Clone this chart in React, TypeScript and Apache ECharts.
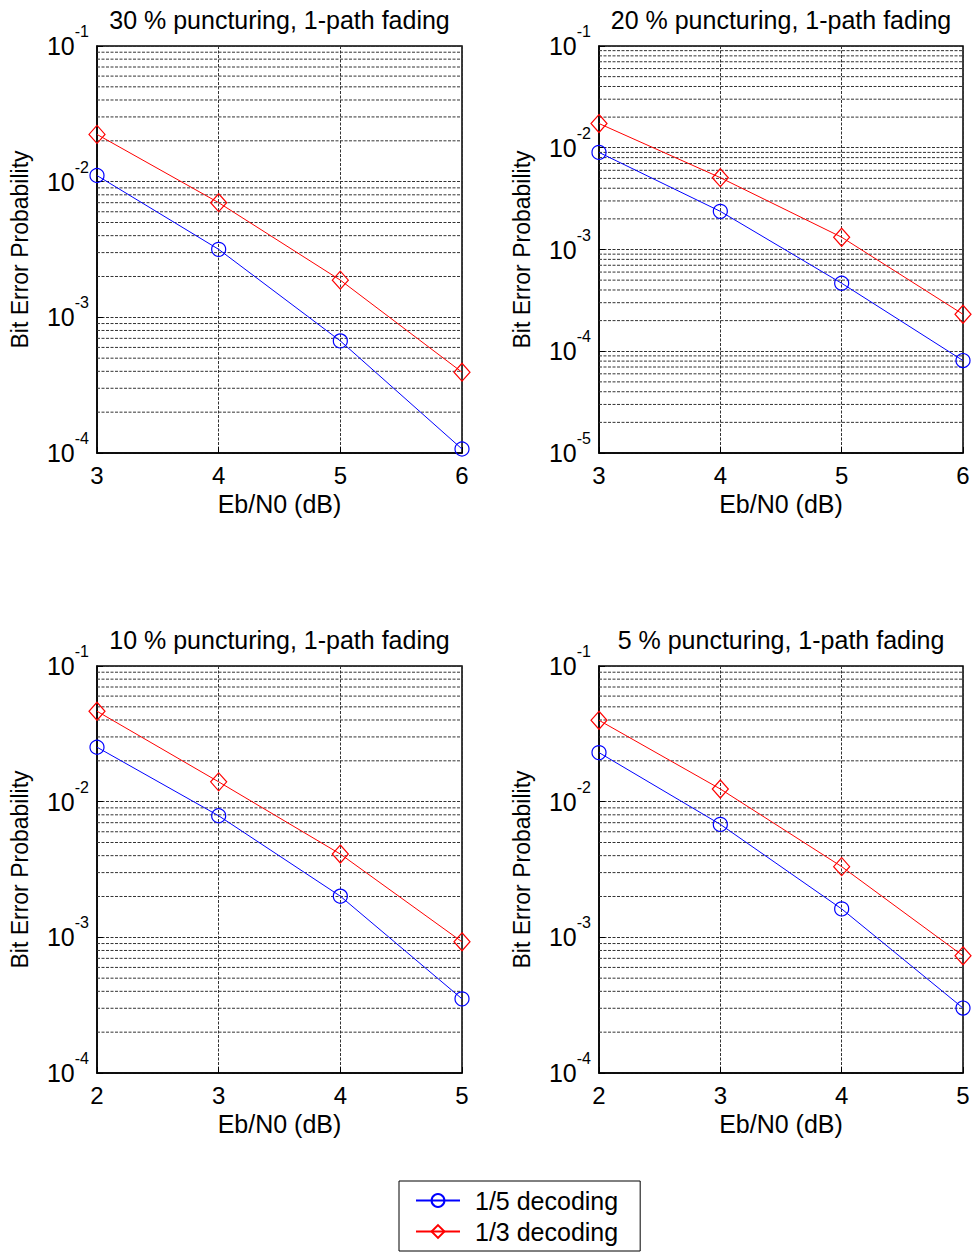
import React, { useEffect, useRef } from "react";
import * as echarts from "echarts";

const X_TOP = [3, 4, 5, 6];
const X_BOTTOM = [2, 3, 4, 5];

const P30_R15 = [0.0111, 0.00317, 0.00067, 0.000107];
const P30_R13 = [0.0223, 0.007, 0.00188, 0.000394];
const P20_R15 = [0.009, 0.00237, 0.000466, 0.000081];
const P20_R13 = [0.0173, 0.00508, 0.00132, 0.000231];
const P10_R15 = [0.0252, 0.00787, 0.00201, 0.000352];
const P10_R13 = [0.0464, 0.014, 0.00411, 0.000927];
const P5_R15 = [0.023, 0.0068, 0.00162, 0.000301];
const P5_R13 = [0.0398, 0.0124, 0.00332, 0.000731];

const TITLES = [
  "30 % puncturing, 1-path fading",
  "20 % puncturing, 1-path fading",
  "10 % puncturing, 1-path fading",
  "5 % puncturing, 1-path fading",
];
const SERIES_NAMES = ["1/5 decoding", "1/3 decoding"];
const X_NAME = "Eb/N0 (dB)";
const Y_NAME = "Bit Error Probability";

const FONT = "'Liberation Sans', Arial, Helvetica, sans-serif";

const PANELS = [
  { title: TITLES[0], x: X_TOP, a: P30_R15, b: P30_R13, yMin: 1e-4, yMax: 1e-1, left: 97, top: 46, width: 365 },
  { title: TITLES[1], x: X_TOP, a: P20_R15, b: P20_R13, yMin: 1e-5, yMax: 1e-1, left: 599, top: 46, width: 364 },
  { title: TITLES[2], x: X_BOTTOM, a: P10_R15, b: P10_R13, yMin: 1e-4, yMax: 1e-1, left: 97, top: 666, width: 365 },
  { title: TITLES[3], x: X_BOTTOM, a: P5_R15, b: P5_R13, yMin: 1e-4, yMax: 1e-1, left: 599, top: 666, width: 364 },
];
const PLOT_H = 407;

// minor log grid positions (2..9 x 10^e) — axis structure, not data
function minorValues(min: number, max: number) {
  const out: number[] = [];
  const e0 = Math.round(Math.log10(min));
  const e1 = Math.round(Math.log10(max));
  for (let e = e0; e < e1; e++) {
    for (let k = 2; k <= 9; k++) out.push(k * Math.pow(10, e));
  }
  return out;
}

const GRID_STYLE = { color: "#333", type: [3, 1.5] as any, width: 1 };

export default function App() {
  const ref = useRef<HTMLDivElement>(null);
  useEffect(() => {
    if (!ref.current) return;
    const chart = echarts.init(ref.current, null, { renderer: "svg" });
    const grid: any[] = [];
    const xAxis: any[] = [];
    const yAxis: any[] = [];
    const series: any[] = [];
    const graphic: any[] = [];
    PANELS.forEach((p, i) => {
      const x0 = p.x[0];
      const x1 = p.x[p.x.length - 1];
      grid.push({
        left: p.left,
        top: p.top,
        width: p.width,
        height: PLOT_H,
        show: true,
        borderColor: "#000",
        borderWidth: 1.5,
        backgroundColor: "#fff",
      });
      xAxis.push({
        type: "value",
        gridIndex: i,
        min: x0,
        max: x1,
        interval: 1,
        name: X_NAME,
        nameLocation: "middle",
        nameGap: 38,
        nameTextStyle: { fontSize: 25, fontFamily: FONT, color: "#000" },
        axisLine: { show: true, lineStyle: { color: "#000", width: 1.5 } },
        axisTick: { show: true, inside: true, length: 6, lineStyle: { color: "#000" } },
        axisLabel: { fontSize: 24, fontFamily: FONT, color: "#000", margin: 10 },
        splitLine: { show: true, lineStyle: GRID_STYLE },
      });
      yAxis.push({
        type: "log",
        logBase: 10,
        gridIndex: i,
        min: p.yMin,
        max: p.yMax,
        name: Y_NAME,
        nameLocation: "middle",
        nameRotate: 90,
        nameGap: 66,
        nameTextStyle: { fontSize: 23, fontFamily: FONT, color: "#000" },
        axisLine: { show: true, lineStyle: { color: "#000", width: 1.5 } },
        axisTick: { show: true, inside: true, length: 6, lineStyle: { color: "#000" } },
        axisLabel: {
          margin: 8,
          formatter: (v: number) => `{b|10}{s|${Math.round(Math.log10(v))}}`,
          rich: {
            b: { fontSize: 25, fontFamily: FONT, color: "#000" },
            s: { fontSize: 16, fontFamily: FONT, color: "#000", padding: [0, 0, 29, 0] },
          },
        },
        splitLine: { show: true, lineStyle: GRID_STYLE },
      });
      minorValues(p.yMin, p.yMax).forEach((v, k) => {
        series.push({
          type: "line",
          name: "minor-" + i + "-" + k,
          xAxisIndex: i,
          yAxisIndex: i,
          data: [
            [x0, v],
            [x1, v],
          ],
          symbol: "none",
          silent: true,
          z: 1,
          lineStyle: GRID_STYLE,
          emphasis: { disabled: true },
        });
      });
      series.push({
        type: "line",
        name: SERIES_NAMES[0],
        xAxisIndex: i,
        yAxisIndex: i,
        data: p.x.map((x, j) => [x, p.a[j]]),
        color: "#0000ff",
        symbol: "circle",
        symbolSize: 14,
        clip: false,
        z: 3,
        lineStyle: { color: "#0000ff", width: 1 },
        itemStyle: { color: "rgba(255,255,255,0)", borderColor: "#0000ff", borderWidth: 1.2 },
      });
      series.push({
        type: "line",
        name: SERIES_NAMES[1],
        xAxisIndex: i,
        yAxisIndex: i,
        data: p.x.map((x, j) => [x, p.b[j]]),
        color: "#ff0000",
        symbol: "diamond",
        symbolSize: [16, 18],
        clip: false,
        z: 3,
        lineStyle: { color: "#ff0000", width: 1 },
        itemStyle: { color: "rgba(255,255,255,0)", borderColor: "#ff0000", borderWidth: 1.2 },
      });
      graphic.push({
        type: "text",
        x: p.left + p.width / 2,
        y: p.top - 26,
        style: {
          text: p.title,
          fontSize: 25,
          fontFamily: FONT,
          fill: "#000",
          align: "center",
          verticalAlign: "middle",
        },
      });
    });

    chart.setOption({
      animation: false,
      backgroundColor: "#fff",
      grid,
      xAxis,
      yAxis,
      series,
      graphic,
      legend: {
        data: SERIES_NAMES,
        orient: "vertical",
        left: 399,
        top: 1181,
        padding: [7, 22, 7, 16],
        itemGap: 6,
        itemWidth: 44,
        itemHeight: 16,
        borderColor: "#000",
        borderWidth: 1,
        borderRadius: 0,
        backgroundColor: "#fff",
        selectedMode: false,
        textStyle: { fontSize: 25, fontFamily: FONT, color: "#000", padding: [0, 0, 0, 10] },
      },
    });
    return () => chart.dispose();
  }, []);
  return (
    <div
      ref={ref}
      style={{ position: "absolute", left: 0, top: 0, width: 976, height: 1252 }}
    />
  );
}
